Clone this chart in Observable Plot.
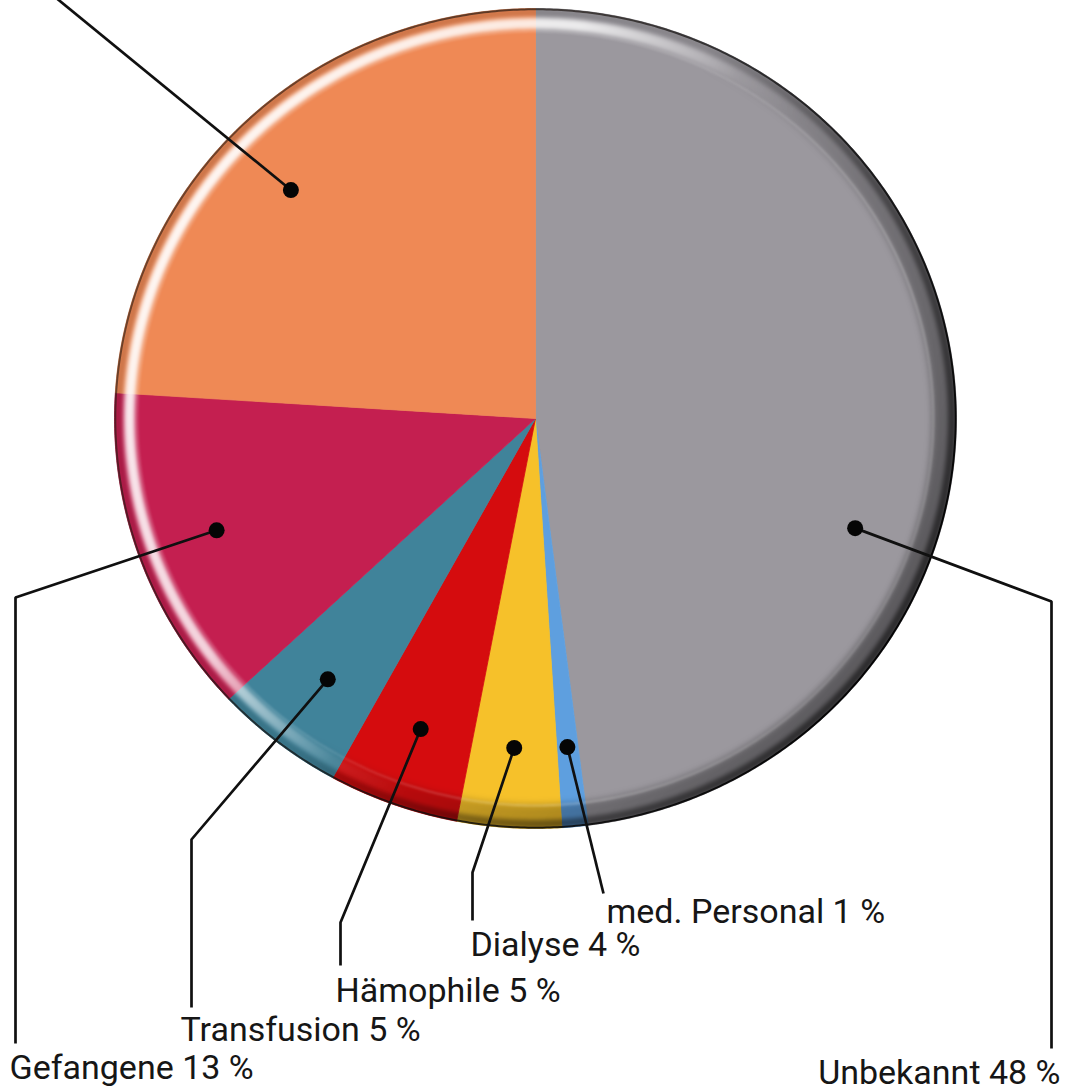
<!DOCTYPE html>
<html>
<head>
<meta charset="utf-8">
<script src="https://cdn.jsdelivr.net/npm/d3@7"></script>
<script src="https://cdn.jsdelivr.net/npm/@observablehq/plot@0.6"></script>
<style>
  html, body { margin: 0; padding: 0; background: #ffffff; }
  #chart { width: 1066px; height: 1091px; overflow: hidden; }
</style>
</head>
<body>
<div id="chart"></div>
<script>
// ---- data (clockwise from 12 o'clock) ----
const categories = ["Unbekannt", "med. Personal", "Dialyse", "Hämophile", "Transfusion", "Gefangene", "Drogenkonsum"];
const values     = [48, 1, 4, 5, 5, 13, 24];
const colors     = ["#9b989e", "#5e9fdf", "#f6c12a", "#d50c0e", "#40839a", "#c41f50", "#ef8955"];
// label of the last (orange) slice lies outside the picture
const showLabel  = [true, true, true, true, true, true, false];

// ---- layout ----
const W = 1066, H = 1091;
const cx = 535, cy = 418, rx = 421, ry = 410;
const dotRadius = 0.805;
const angleShift = [23, 0, 0, 0, 0, 0, -3];          // degrees added to slice mid-angle for the marker dot
const bends  = [[1051, 601], null, [472, 872], [340, 922], [191, 839], [15, 597], null];
const ends   = [[1051, 1048], [603, 893], [472, 920], [340, 965], [191, 1007], [15, 1043], [49, -8]];
const labelPos = [[1060, 1083], [606, 922], [470, 955], [335, 1001], [180, 1040], [9, 1078], null];
const labelAnchor = ["end", "start", "start", "start", "start", "start", "start"];
const fontSize = 34;

// ---- geometry from data ----
const total = d3.sum(values);
const slices = [];
let acc = 0;
categories.forEach((c, i) => {
  const a0 = acc / total * 2 * Math.PI;
  acc += values[i];
  const a1 = acc / total * 2 * Math.PI;
  slices.push({c, i, a0, a1});
});
const polar = (a, f) => ({x: cx + rx * f * Math.sin(a), y: cy - ry * f * Math.cos(a)});

const slicePts = [];
for (const s of slices) {
  slicePts.push({c: s.c, x: cx, y: cy});
  const n = Math.max(2, Math.ceil((s.a1 - s.a0) / (Math.PI / 360)));
  for (let k = 0; k <= n; k++) {
    const a = s.a0 + (s.a1 - s.a0) * k / n;
    slicePts.push({c: s.c, ...polar(a, 1)});
  }
  slicePts.push({c: s.c, x: cx, y: cy});
}

function ring(off) {
  const arr = [];
  for (let k = 0; k <= 720; k++) {
    const a = k / 720 * 2 * Math.PI;
    arr.push({x: cx + (rx - off) * Math.sin(a), y: cy - (ry - off) * Math.cos(a)});
  }
  return arr;
}

const dots = [], leaders = [], labelsStart = [], labelsEnd = [];
slices.forEach((s, i) => {
  const a = (s.a0 + s.a1) / 2 + angleShift[i] * Math.PI / 180;
  const p = polar(a, dotRadius);
  dots.push({c: s.c, ...p});
  leaders.push({c: s.c, ...p});
  if (bends[i]) leaders.push({c: s.c, x: bends[i][0], y: bends[i][1]});
  leaders.push({c: s.c, x: ends[i][0], y: ends[i][1]});
  if (showLabel[i] && labelPos[i]) {
    const t = {c: s.c, text: `${s.c} ${values[i]} %`, x: labelPos[i][0], y: labelPos[i][1]};
    (labelAnchor[i] === "end" ? labelsEnd : labelsStart).push(t);
  }
});

const marks = [
  Plot.line(slicePts, {x: "x", y: "y", z: "c", fill: "c", stroke: "c", strokeWidth: 0.8, curve: "linear"}),          // 0 slices
  Plot.line(ring(12), {x: "x", y: "y", stroke: "url(#shade)", strokeWidth: 24, curve: "linear"}),                     // 1
  Plot.line(ring(4), {x: "x", y: "y", stroke: "url(#shade2)", strokeWidth: 9, curve: "linear"}),                      // 2
  Plot.line(ring(23), {x: "x", y: "y", stroke: "url(#innerline)", strokeWidth: 1.6, curve: "linear"}),                // 3
  Plot.line(ring(15), {x: "x", y: "y", stroke: "url(#hilite)", strokeWidth: 11, curve: "linear"}),                    // 4
  Plot.line(ring(0.8), {x: "x", y: "y", stroke: "url(#rim)", strokeWidth: 2, curve: "linear"}),                       // 5
  Plot.line(leaders, {x: "x", y: "y", z: "c", stroke: "#101010", strokeWidth: 2.7, strokeLinejoin: "miter", strokeLinecap: "butt", curve: "linear"}),
  Plot.dot(dots, {x: "x", y: "y", r: 8, fill: "#050505", stroke: "none"}),
  Plot.text(labelsStart, {x: "x", y: "y", text: "text", textAnchor: "start", lineAnchor: "bottom", fontSize: fontSize, fill: "#161616"}),
  Plot.text(labelsEnd, {x: "x", y: "y", text: "text", textAnchor: "end", lineAnchor: "bottom", fontSize: fontSize, fill: "#161616"})
];

const chart = Plot.plot({
  width: W, height: H,
  margin: 0,
  x: {domain: [0, W], range: [0, W], axis: null},
  y: {domain: [0, H], range: [0, H], axis: null},
  color: {domain: categories, range: colors},
  style: {background: "transparent", fontFamily: "Roboto, 'Liberation Sans', sans-serif"},
  marks
});
document.getElementById("chart").appendChild(chart);

// decorative defs: gradients, blur, clip built from the slice paths
try {
  const svg = d3.select(chart);
  const groups = svg.selectAll(":scope > g").nodes();
  const defs = svg.insert("defs", ":first-child");
  const lg = (id, stops) => {
    const g = defs.append("linearGradient").attr("id", id)
      .attr("x1", 0.067).attr("y1", 0.25).attr("x2", 0.933).attr("y2", 0.75);
    stops.forEach(([o, c, op]) => g.append("stop").attr("offset", o).attr("stop-color", c).attr("stop-opacity", op));
  };
  lg("shade",  [[0, "#000", 0], [0.45, "#000", 0], [0.7, "#000", 0.24], [1, "#000", 0.4]]);
  lg("shade2", [[0, "#000", 0.14], [0.45, "#000", 0.12], [0.7, "#000", 0.38], [1, "#000", 0.55]]);
  lg("hilite", [[0, "#fff", 0.92], [0.3, "#fff", 0.8], [0.5, "#fff", 0.08], [0.6, "#fff", 0], [1, "#fff", 0]]);
  lg("innerline", [[0, "#fff", 0.1], [0.5, "#fff", 0.15], [0.8, "#fff", 0.3], [1, "#fff", 0.2]]);
  lg("rim", [[0, "#2a1a10", 0.6], [0.5, "#111", 0.75], [1, "#000", 0.95]]);
  const blur = (id, sd) => defs.append("filter").attr("id", id).attr("x", "-10%").attr("y", "-10%").attr("width", "120%").attr("height", "120%")
    .append("feGaussianBlur").attr("stdDeviation", sd);
  blur("b3", 3.5); blur("b2", 2); blur("b1", 0.8);
  const clip = defs.append("clipPath").attr("id", "pieclip");
  d3.select(groups[0]).selectAll("path").each(function() {
    const p = this.cloneNode(false);
    p.removeAttribute("stroke"); p.removeAttribute("fill");
    clip.node().appendChild(p);
  });
  const wrap = (idx, filt) => {
    const node = groups[idx];
    if (!node) return;
    const outer = document.createElementNS("http://www.w3.org/2000/svg", "g");
    outer.setAttribute("clip-path", "url(#pieclip)");
    node.parentNode.insertBefore(outer, node);
    outer.appendChild(node);
    if (filt) node.setAttribute("filter", `url(#${filt})`);
  };
  wrap(1, "b3");
  wrap(2, "b2");
  wrap(3, "b1");
  wrap(4, "b2");
} catch (e) { console.error(e); }
</script>
</body>
</html>
